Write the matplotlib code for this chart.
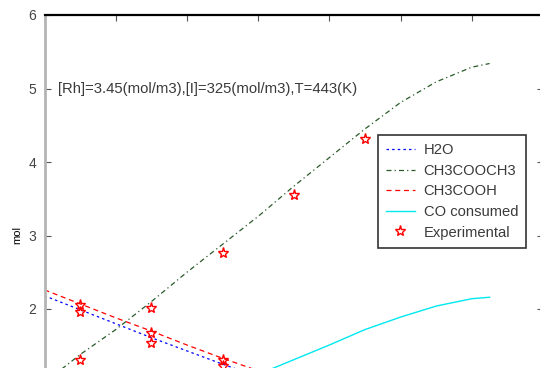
import matplotlib
matplotlib.use('Agg')
import matplotlib.pyplot as plt

# model curves (time grid, mol)
t_model = [0, 0.5, 1.0, 1.5, 2.0, 2.5, 3.0, 3.5, 4.0, 4.5, 5.0, 5.5, 6.0, 6.25]
h2o = [2.18, 1.99, 1.80, 1.61, 1.43, 1.25, 1.08, 0.93, 0.79, 0.67, 0.56, 0.47, 0.40, 0.37]
ester = [1.00, 1.38, 1.72, 2.10, 2.50, 2.88, 3.26, 3.67, 4.06, 4.45, 4.81, 5.09, 5.29, 5.34]
acid = [2.26, 2.07, 1.88, 1.70, 1.51, 1.33, 1.16, 1.00, 0.86, 0.73, 0.62, 0.53, 0.45, 0.42]
co_used = [0.00, 0.19, 0.37, 0.55, 0.74, 0.92, 1.11, 1.31, 1.51, 1.72, 1.89, 2.04, 2.14, 2.16]

# experimental points
t_exp = [0.5, 1.5, 2.5, 3.5, 4.5]
exp_ester = [1.31, 2.01, 2.76, 3.55, 4.31]
t_exp_short = [0.5, 1.5, 2.5]
exp_acid = [2.05, 1.67, 1.30]
exp_h2o = [1.96, 1.54, 1.22]

y_ticks = [2, 3, 4, 5, 6]
note = "[Rh]=3.45(mol/m3),[I]=325(mol/m3),T=443(K)"

plt.rcParams['font.family'] = ['Liberation Sans', 'DejaVu Sans']

W, H = 540, 368
fig = plt.figure(figsize=(W / 100, H / 100), dpi=100)
# axes is larger than the picture: the original is a crop of a bigger plot
left, right, top = 44.5, 543.0, 15.0
px_per_mol = 73.5
ax = fig.add_axes([left / W, (H - top - 6 * px_per_mol) / H,
                   (right - left) / W, 6 * px_per_mol / H])

ax.plot(t_model, h2o, color='blue', lw=0.9, dashes=(2, 2.5), label='H2O')
ax.plot(t_model, ester, color='#2a5a2a', lw=0.9, dashes=(4, 2.5, 1, 2.5), label='CH3COOCH3')
ax.plot(t_model, acid, color='red', lw=0.9, dashes=(4, 3), label='CH3COOH')
ax.plot(t_model, co_used, color='#00e8f0', lw=1.0, label='CO consumed')

mk = dict(ls='none', marker='*', ms=8, mfc='none', mec='red', mew=1.0)
ax.plot(t_exp, exp_ester, label='Experimental', **mk)
ax.plot(t_exp_short, exp_acid, **mk)
ax.plot(t_exp_short, exp_h2o, **mk)

ax.text(0.19, 5.0, note, fontsize=10.7, color='#3a3a3a', va='center', ha='left')

ax.set_xlim(0, 7)
ax.set_ylim(0, 6)
ax.set_xticks(range(0, 8))
ax.set_yticks(y_ticks)
ax.tick_params(direction='in', length=4, width=0.8, top=True, right=True,
               labelsize=10, labelcolor='#444444', pad=6, color='#555555')
ax.tick_params(axis='x', labelbottom=False)
ax.set_ylabel('mol', fontsize=8, labelpad=4)

ax.spines['left'].set_color('#b4b4b4')
ax.spines['left'].set_linewidth(2)
ax.spines['top'].set_color('black')
ax.spines['top'].set_linewidth(1.6)

leg = ax.legend(loc='upper left', bbox_to_anchor=(378 / W, 1 - 135 / H),
                bbox_transform=fig.transFigure, fontsize=10.6, frameon=True,
                fancybox=False, edgecolor='black', handlelength=1.95,
                handletextpad=0.6, labelspacing=0.45, borderpad=0.55,
                borderaxespad=0)
leg.get_frame().set_linewidth(1.2)
for txt in leg.get_texts():
    txt.set_color('#3a3a3a')

fig.savefig('out.png', dpi=100)
